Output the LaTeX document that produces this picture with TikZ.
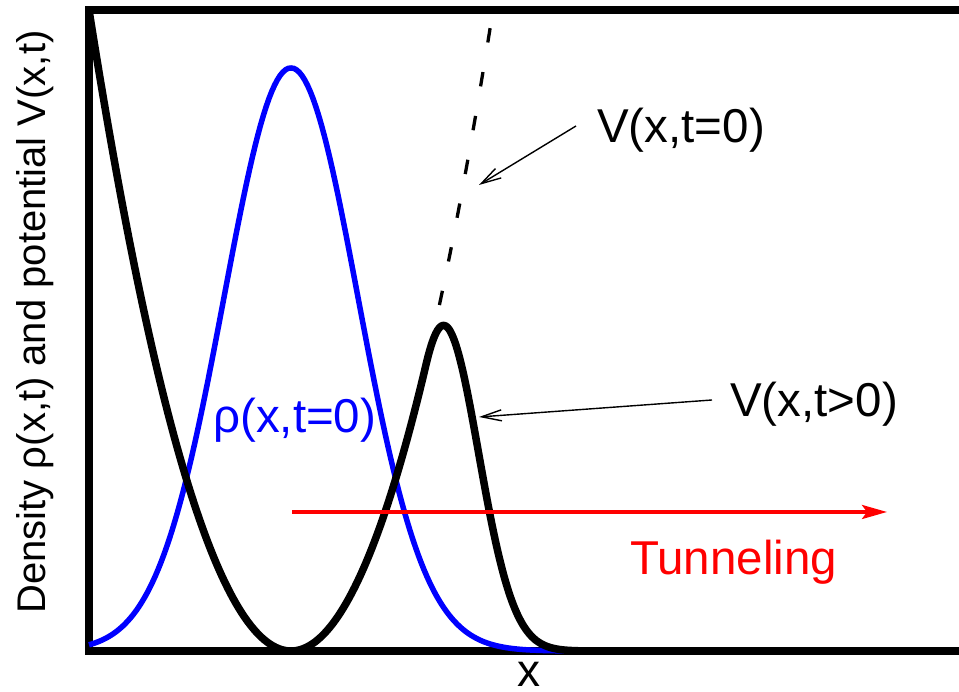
\documentclass[tikz,border=0pt]{standalone}
\usepackage{fontspec}
\setmainfont{Liberation Sans}
\usetikzlibrary{arrows.meta}
\begin{document}
\begin{tikzpicture}[x=1pt,y=1pt,
  lbl/.style={inner sep=0pt, anchor=base west, font=\fontsize{47.5}{52}\selectfont},
  thinarrow/.style={line width=1.4pt, -{Straight Barb[length=20pt,width=11pt]}},
  frame/.style={line width=8pt, black, line join=miter},
  vcurve/.style={line width=7.5pt, black, line join=round},
  rhocurve/.style={line width=5.5pt, blue},
  oldpot/.style={line width=3.3pt, black, dash pattern=on 14.5pt off 30pt},
  tunarrow/.style={line width=3.5pt, red, -{Stealth[length=25pt,width=14pt,inset=5pt]}}]
\useasboundingbox (0,0) rectangle (959,692);
\clip (0,0) rectangle (959,692);
% frame
\draw[frame] (975,682) -- (89,682) -- (89,41) -- (975,41);
% density
\draw[rhocurve] plot[domain=89:640,samples=200] (\x,{41+583*exp(-((\x-291)/94.75)^2)});
% potential t>0
\draw[vcurve] plot[domain=89:425.8,samples=120] (\x,{41+157.1*((\x-291)/100)^2})
  -- plot[domain=425.8:620,samples=150] (\x,{41+157.1*((\x-291)/100)^2*exp(-((\x-425.8)/52.1)^2)})
  -- (975,41);
% potential t=0 (dashed continuation)
\draw[oldpot] plot[domain=439.4:491.4,samples=60] (\x,{41+157.1*((\x-291)/100)^2});
% labels
\node[lbl] (V0) at (597,549) {V(x,t=0)};
\node[lbl] (V1) at (730,275) {V(x,t>0)};
\node[lbl, blue] (rho) at (213,259) {ρ(x,t=0)};
\node[lbl, red] (tun) at (630,117) {Tunneling};
\node[inner sep=0pt, anchor=base, font=\fontsize{46}{50}\selectfont] (xl) at (529,5) {x};
\node[inner sep=0pt, anchor=base, rotate=90, font=\fontsize{40}{44}\selectfont] (yl) at (45,370) {Density ρ(x,t) and potential V(x,t)};
% arrows
\coordinate (t0) at (479,507);
\coordinate (t1) at (479,275);
\coordinate (s0) at (576,566);
\coordinate (s1) at (712,292);
\coordinate (r0) at (292,180);
\coordinate (r1) at (887,180);
\draw[thinarrow] (s0) -- (t0);
\draw[thinarrow] (s1) -- (t1);
\draw[tunarrow] (r0) -- (r1);
\end{tikzpicture}
\end{document}
